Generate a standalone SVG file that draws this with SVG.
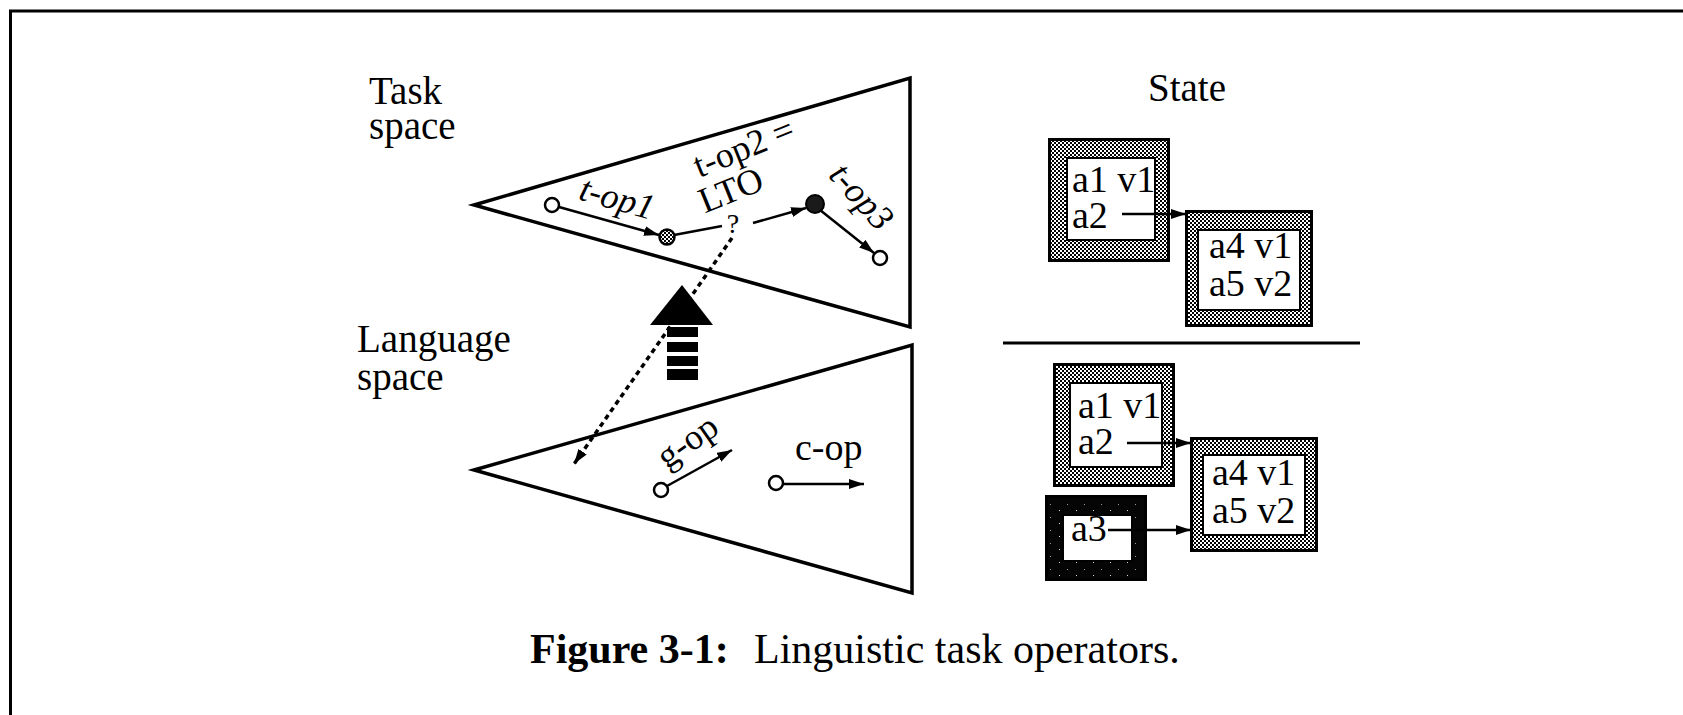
<svg xmlns="http://www.w3.org/2000/svg" width="1683" height="715" viewBox="0 0 1683 715">
<defs>
<style>
.t{font-family:"Liberation Serif","Times New Roman",serif;fill:#000}
.lbl{font-size:39px}
.op{font-size:36px}
.it{font-style:italic}
.box{font-size:38px}
.tri{fill:#fff;stroke:#000;stroke-width:3.5;stroke-linejoin:miter}
.ln{stroke:#000;stroke-width:2.5;fill:none}
.circ{fill:#fff;stroke:#000;stroke-width:2.5}
.outer{stroke:#000;stroke-width:3}
.inner{fill:#fff;stroke:#000;stroke-width:2}
</style>
<pattern id="dots" width="4" height="4" patternUnits="userSpaceOnUse">
<rect width="4" height="4" fill="#fff"/>
<rect width="2" height="2" fill="#000"/>
<rect x="2" y="2" width="2" height="2" fill="#000"/>
</pattern>
<pattern id="dark" width="17" height="13" patternUnits="userSpaceOnUse">
<rect width="17" height="13" fill="#050505"/>
<rect x="5" y="3" width="1" height="1" fill="#ddd"/>
<rect x="13" y="10" width="1" height="1" fill="#999"/>
</pattern>
<marker id="ah" markerUnits="userSpaceOnUse" markerWidth="16" markerHeight="10" refX="15" refY="5" orient="auto">
<path d="M0,0 L15,5 L0,10 z" fill="#000"/>
</marker>
</defs>
<rect width="1683" height="715" fill="#fff"/>
<!-- frame -->
<path d="M10.5,715 L10.5,11 L1683,11" fill="none" stroke="#000" stroke-width="3"/>

<g id="task-space">
<polygon class="tri" points="474,205 910,78 910,327"/>
<text class="t lbl" x="369" y="104">Task</text>
<text class="t lbl" x="369" y="139">space</text>
</g>

<g id="language-space">
<polygon class="tri" points="474,470 912,345 912,593"/>
<text class="t lbl" x="357" y="352">Language</text>
<text class="t lbl" x="357" y="390">space</text>
</g>

<g id="big-arrow">
<polygon points="682,285 650,325 713,325" fill="#000"/>
<rect x="667" y="327" width="31" height="10" fill="#000"/>
<rect x="667" y="342" width="31" height="10" fill="#000"/>
<rect x="667" y="356" width="31" height="10" fill="#000"/>
<rect x="667" y="369" width="31" height="11" fill="#000"/>
</g>

<g id="state-title">
<text class="t lbl" x="1187" y="101" text-anchor="middle">State</text>
</g>
<g id="separator">
<line x1="1003" y1="343" x2="1360" y2="343" stroke="#000" stroke-width="3"/>
</g>

<g id="box1">
<rect class="outer" x="1049.5" y="139.5" width="119" height="121" fill="url(#dots)"/>
<rect class="inner" x="1067" y="158" width="88" height="82"/>
<text class="t box" x="1072" y="192">a1 v1</text>
<text class="t box" x="1072" y="228">a2</text>
</g>
<g id="box2">
<rect class="outer" x="1186.5" y="211.5" width="125" height="114" fill="url(#dots)"/>
<rect class="inner" x="1198" y="230" width="102" height="80"/>
<text class="t box" x="1209" y="258">a4 v1</text>
<text class="t box" x="1209" y="296">a5 v2</text>
</g>
<g id="box3">
<rect class="outer" x="1054.5" y="364.5" width="119" height="121" fill="url(#dots)"/>
<rect class="inner" x="1070" y="383" width="92" height="84"/>
<text class="t box" x="1078" y="418">a1 v1</text>
<text class="t box" x="1078" y="454">a2</text>
</g>
<g id="box4">
<rect class="outer" x="1191.5" y="438.5" width="125" height="112" fill="url(#dots)"/>
<rect class="inner" x="1203" y="455" width="102" height="80"/>
<text class="t box" x="1212" y="485">a4 v1</text>
<text class="t box" x="1212" y="523">a5 v2</text>
</g>
<g id="box5">
<rect class="outer" x="1046.5" y="496.5" width="99" height="83" fill="url(#dark)"/>
<rect class="inner" x="1063" y="515" width="69" height="46"/>
<text class="t box" x="1071" y="541">a3</text>
</g>

<g id="state-t-start"><circle class="circ" cx="552" cy="205" r="7"/></g>
<g id="state-t-mid"><circle cx="667" cy="237" r="7.5" fill="url(#dots)" stroke="#000" stroke-width="2.5"/></g>
<g id="state-t-dark"><circle cx="815" cy="204" r="9" fill="#1a1a1a" stroke="#000" stroke-width="2"/></g>
<g id="state-t-end"><circle class="circ" cx="880" cy="258" r="7"/></g>
<g id="state-g"><circle class="circ" cx="661" cy="490" r="7"/></g>
<g id="state-c"><circle class="circ" cx="776" cy="483" r="7"/></g>

<g id="connectors">
<line class="ln" x1="559" y1="207" x2="659" y2="235" marker-end="url(#ah)"/>
<line class="ln" x1="674" y1="235" x2="722" y2="226"/>
<line class="ln" x1="753" y1="223" x2="806" y2="208" marker-end="url(#ah)"/>
<line class="ln" x1="820" y1="210" x2="874" y2="253" marker-end="url(#ah)"/>
<line stroke="#000" stroke-width="3.5" stroke-dasharray="5 4" x1="732" y1="238" x2="574" y2="464" marker-end="url(#ah)"/>
<line class="ln" x1="667" y1="486" x2="732" y2="450" marker-end="url(#ah)"/>
<line class="ln" x1="783" y1="484" x2="864" y2="484" marker-end="url(#ah)"/>
<line class="ln" x1="1122" y1="214" x2="1186" y2="214" marker-end="url(#ah)"/>
<line class="ln" x1="1127" y1="443" x2="1191" y2="443" marker-end="url(#ah)"/>
<line class="ln" x1="1108" y1="530" x2="1191" y2="530" marker-end="url(#ah)"/>
</g>

<g id="op-labels">
<text class="t op it" text-anchor="middle" transform="translate(617,199) rotate(16)" y="11">t-op1</text>
<g transform="translate(744,148) rotate(-22)">
<text class="t op" text-anchor="middle" x="0" y="11">t-op2 =</text>
<text class="t op" text-anchor="middle" x="-28" y="46">LTO</text>
</g>
<text class="t" style="font-size:28px" x="733" y="233" text-anchor="middle">?</text>
<text class="t op it" text-anchor="middle" transform="translate(861,197) rotate(48)" y="11">t-op3</text>
<text class="t op" text-anchor="middle" transform="translate(690,445) rotate(-35)" y="7">g-op</text>
<text class="t op" style="font-size:38px" x="795" y="460">c-op</text>
</g>

<g id="caption">
<text class="t" style="font-size:42px" y="663"><tspan x="530" font-weight="bold">Figure 3-1:</tspan><tspan x="754">Linguistic task operators.</tspan></text>
</g>
</svg>
